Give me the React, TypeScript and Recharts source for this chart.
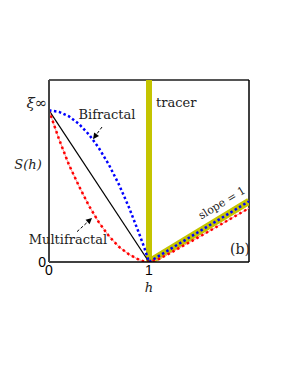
import React from 'react';
import { ComposedChart, Line, XAxis, YAxis, ReferenceLine, ReferenceDot } from 'recharts';

const hLeft = [0, 0.1, 0.2, 0.3, 0.4, 0.5, 0.6, 0.7, 0.8, 0.9, 0.95, 1];
const bifractalLeft = [1, 0.99, 0.96, 0.91, 0.84, 0.75, 0.64, 0.51, 0.36, 0.19, 0.1, 0];
const multifractalLeft = [1, 0.81, 0.64, 0.5, 0.37, 0.26, 0.17, 0.1, 0.05, 0.015, 0.004, 0];
const hRight = [1.1, 1.2, 1.5, 2];
const bifractalRight = [0.04, 0.08, 0.2, 0.4];
const multifractalRight = [0.02, 0.055, 0.165, 0.355];
const tracerH = [1, 2];
const tracerS = [0, 0.4];
const xTicks = [0, 1];
const yTicks = [0];
const xiInf = 1;

const bifractalData = [...hLeft, ...hRight].map((h, i) => ({ h, s: [...bifractalLeft, ...bifractalRight][i] }));
const multifractalData = [...hLeft, ...hRight].map((h, i) => ({ h, s: [...multifractalLeft, ...multifractalRight][i] }));
const tracerData = tracerH.map((h, i) => ({ h, s: tracerS[i] }));
const blackData = [{ h: 0, s: xiInf }, { h: 1, s: 0 }];

const YELLOW = '#c4c400';
const SERIF = '"DejaVu Serif", serif';

const txt = (value: string, opts: { dx?: number; dy?: number; size?: number; anchor?: string; italic?: boolean; rotate?: number; family?: string }) =>
  (props: any) => {
    const vb = props.viewBox || {};
    const x = (vb.x ?? 0) + (vb.width ?? 0) / 2 + (opts.dx ?? 0);
    const y = (vb.y ?? 0) + (vb.height ?? 0) / 2 + (opts.dy ?? 0);
    return (
      <text
        x={x}
        y={y}
        textAnchor={opts.anchor ?? 'middle'}
        dominantBaseline="central"
        fontFamily={opts.family ?? SERIF}
        fontSize={opts.size ?? 13}
        fontStyle={opts.italic ? 'italic' : 'normal'}
        fill="#222"
        transform={opts.rotate ? `rotate(${opts.rotate} ${x} ${y})` : undefined}
      >
        {value}
      </text>
    );
  };

const arrowShape = (id: string) => (props: any) => {
  const { x1, y1, x2, y2 } = props;
  const ang = Math.atan2(y2 - y1, x2 - x1);
  const L = 6, W = 3;
  const bx = x2 - L * Math.cos(ang), by = y2 - L * Math.sin(ang);
  const px = -Math.sin(ang) * W, py = Math.cos(ang) * W;
  return (
    <g key={id}>
      <line x1={x1} y1={y1} x2={bx} y2={by} stroke="#000" strokeWidth={1} strokeDasharray="3 2" />
      <polygon points={`${x2},${y2} ${bx + px},${by + py} ${bx - px},${by - py}`} fill="#000" />
    </g>
  );
};

export default function App() {
  return (
    <ComposedChart width={267} height={350} margin={{ top: 72, right: 26, left: 11, bottom: 66 }}>
      <XAxis
        dataKey="h"
        type="number"
        domain={[0, 2]}
        ticks={xTicks}
        allowDataOverflow
        height={30}
        tickSize={0}
        tickMargin={3}
        axisLine={{ stroke: '#000', strokeWidth: 1.5 }}
        tick={{ fill: '#000', fontSize: 14, fontFamily: '"Liberation Sans", sans-serif' }}
      />
      <YAxis
        type="number"
        domain={[0, 1.2]}
        ticks={yTicks}
        allowDataOverflow
        width={30}
        tickSize={0}
        tickMargin={3}
        axisLine={{ stroke: '#444', strokeWidth: 2 }}
        tick={{ fill: '#000', fontSize: 14, fontFamily: '"Liberation Sans", sans-serif' }}
      />
      <ReferenceLine y={1.2} stroke="#555" strokeWidth={2} />
      <ReferenceLine x={2} stroke="#000" strokeWidth={1.5} />
      <ReferenceLine x={1} stroke={YELLOW} strokeWidth={6} />
      <Line data={tracerData} dataKey="s" type="linear" stroke={YELLOW} strokeWidth={7} dot={false} isAnimationActive={false} />
      <Line data={blackData} dataKey="s" type="linear" stroke="#000" strokeWidth={1.2} dot={false} isAnimationActive={false} />
      <Line data={multifractalData} dataKey="s" type="linear" stroke="#ff9090" strokeWidth={1} dot={false} isAnimationActive={false} />
      <Line data={multifractalData} dataKey="s" type="linear" stroke="#ff0000" strokeWidth={2.5} strokeDasharray="2.5 3" dot={false} isAnimationActive={false} />
      <Line data={bifractalData} dataKey="s" type="linear" stroke="#0000ff" strokeWidth={2.5} strokeDasharray="2.5 2.5" dot={false} isAnimationActive={false} />
      <ReferenceLine segment={[{ x: 0.53, y: 0.89 }, { x: 0.44, y: 0.81 }]} shape={arrowShape('a1')} />
      <ReferenceLine segment={[{ x: 0.28, y: 0.2 }, { x: 0.43, y: 0.29 }]} shape={arrowShape('a2')} />
      <ReferenceDot x={0.58} y={0.97} r={0} fill="none" stroke="none" label={{ content: txt('Bifractal', { size: 13 }) }} />
      <ReferenceDot x={0.19} y={0.15} r={0} fill="none" stroke="none" label={{ content: txt('Multifractal', { size: 13 }) }} />
      <ReferenceDot x={1.07} y={1.05} r={0} fill="none" stroke="none" label={{ content: txt('tracer', { size: 13, anchor: 'start' }) }} />
      <ReferenceDot x={1.73} y={0.29} r={0} fill="none" stroke="none" label={{ content: txt('slope = 1', { size: 11, dy: -15, rotate: -31 }) }} />
      <ReferenceDot x={1.91} y={0.085} r={0} fill="none" stroke="none" label={{ content: txt('(b)', { size: 14 }) }} />
      <ReferenceDot x={0} y={xiInf} r={0} fill="none" stroke="none" label={{ content: txt('ξ∞', { size: 15, dx: -12, dy: -7, italic: true }) }} />
      <ReferenceDot x={0} y={0.64} r={0} fill="none" stroke="none" label={{ content: txt('S(h)', { size: 13, dx: -21, italic: true }) }} />
      <ReferenceDot x={1} y={0} r={0} fill="none" stroke="none" label={{ content: txt('h', { size: 13, dy: 25, italic: true }) }} />
    </ComposedChart>
  );
}
